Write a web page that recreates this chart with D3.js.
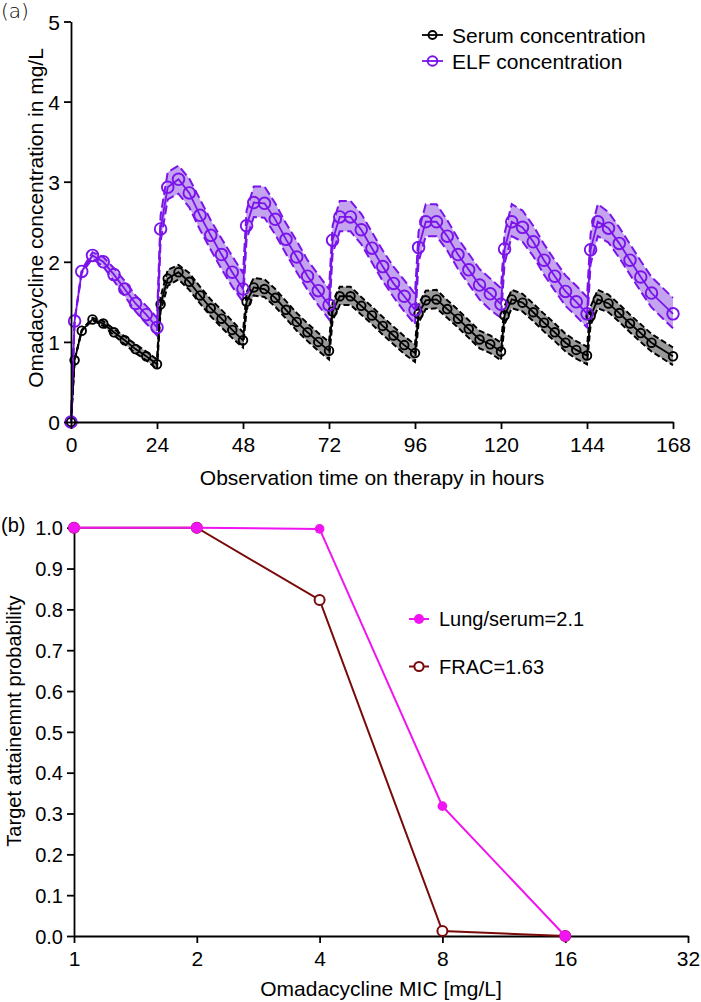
<!DOCTYPE html>
<html><head><meta charset="utf-8">
<script src="https://cdn.jsdelivr.net/npm/d3@7"></script>
<style>
body{margin:0;background:#fff;}
svg{display:block;font-family:"Liberation Sans",Arial,sans-serif;}
</style></head>
<body><svg id="c" width="701" height="1002"></svg>
<script>
// ---------- Panel (a) data ----------
const times = [0,1,3,6,9,12,15,18,21,
 24,25,27,30,33,36,39,42,45,
 48,49,51,54,57,60,63,66,69,
 72,73,75,78,81,84,87,90,93,
 96,97,99,102,105,108,111,114,117,
 120,121,123,126,129,132,135,138,141,
 144,145,147,150,153,156,159,162,168];
const serum = [0,0.77,1.14,1.28,1.23,1.12,1.02,0.91,0.82,
 0.72,1.47,1.79,1.87,1.75,1.58,1.42,1.29,1.15,
 1.02,1.50,1.68,1.66,1.55,1.40,1.25,1.12,1.00,
 0.89,1.38,1.57,1.57,1.45,1.33,1.20,1.08,0.96,
 0.86,1.35,1.52,1.53,1.41,1.29,1.16,1.03,0.97,
 0.88,1.33,1.53,1.49,1.37,1.24,1.12,0.99,0.90,
 0.83,1.32,1.53,1.48,1.36,1.23,1.11,0.99,0.82];
const serumLo = [0,0.77,1.14,1.27,1.20,1.08,0.97,0.86,0.77,
 0.66,1.38,1.70,1.78,1.65,1.48,1.32,1.18,1.05,
 0.93,1.40,1.58,1.56,1.44,1.29,1.14,1.01,0.89,
 0.78,1.27,1.46,1.46,1.34,1.22,1.09,0.97,0.85,
 0.75,1.24,1.41,1.42,1.30,1.18,1.05,0.92,0.86,
 0.77,1.22,1.42,1.38,1.26,1.13,1.01,0.88,0.79,
 0.72,1.21,1.42,1.37,1.25,1.12,1.00,0.88,0.71];
const serumHi = [0,0.77,1.15,1.30,1.26,1.16,1.07,0.97,0.88,
 0.78,1.56,1.90,1.96,1.86,1.69,1.53,1.40,1.26,
 1.12,1.62,1.80,1.78,1.66,1.51,1.36,1.23,1.11,
 1.00,1.49,1.69,1.69,1.56,1.44,1.31,1.19,1.07,
 0.97,1.47,1.64,1.65,1.52,1.40,1.27,1.14,1.08,
 0.99,1.45,1.65,1.60,1.48,1.35,1.23,1.10,1.01,
 0.94,1.44,1.65,1.59,1.47,1.34,1.22,1.10,0.93];
const elf = [0,1.26,1.88,2.08,2.00,1.84,1.66,1.48,1.34,
 1.18,2.41,2.93,3.03,2.86,2.58,2.33,2.09,1.87,
 1.66,2.45,2.74,2.73,2.53,2.28,2.06,1.82,1.64,
 1.46,2.27,2.56,2.56,2.40,2.17,1.94,1.73,1.57,
 1.40,2.18,2.50,2.50,2.32,2.09,1.90,1.71,1.60,
 1.47,2.16,2.50,2.43,2.25,2.02,1.82,1.63,1.50,
 1.35,2.15,2.50,2.42,2.23,2.02,1.81,1.61,1.35];
const elfLo = [0,1.26,1.86,2.04,1.94,1.76,1.57,1.38,1.23,
 1.08,2.25,2.78,2.85,2.68,2.40,2.15,1.91,1.69,
 1.50,2.28,2.56,2.55,2.34,2.10,1.87,1.65,1.46,
 1.28,2.10,2.38,2.38,2.22,1.99,1.76,1.56,1.38,
 1.22,2.00,2.32,2.32,2.14,1.91,1.72,1.53,1.40,
 1.30,1.98,2.32,2.25,2.07,1.84,1.64,1.45,1.32,
 1.18,1.97,2.32,2.24,2.05,1.84,1.63,1.43,1.17];
const elfHi = [0,1.27,1.90,2.12,2.06,1.92,1.76,1.58,1.45,
 1.30,2.58,3.12,3.20,3.04,2.78,2.52,2.29,2.07,
 1.86,2.64,2.94,2.94,2.73,2.48,2.26,2.02,1.84,
 1.66,2.45,2.76,2.76,2.60,2.37,2.14,1.94,1.77,
 1.60,2.38,2.72,2.72,2.52,2.29,2.10,1.91,1.79,
 1.67,2.36,2.72,2.64,2.45,2.22,2.02,1.83,1.70,
 1.56,2.35,2.72,2.62,2.43,2.22,2.01,1.81,1.55];
const xTicksA = [0,24,48,72,96,120,144,168];
const yTicksA = [0,1,2,3,4,5];

// ---------- Panel (b) data ----------
const mic = [1,2,4,8,16];
const lungSerum = [1.0,1.0,0.997,0.318,0.0];
const frac = [1.0,1.0,0.823,0.012,0.0];
const xTicksB = [1,2,4,8,16,32];
const yTicksB = [0,0.1,0.2,0.3,0.4,0.5,0.6,0.7,0.8,0.9,1.0];

const PURPLE = "#7a14ea", LAV = "#c4a4ee", GRAY = "#999999";
const PINK = "#f014f0", BROWN = "#7a0a0a";

const svg = d3.select("#c");

// ===== Panel (a) =====
const xA = d3.scaleLinear().domain([0,168]).range([71,673]);
const yA = d3.scaleLinear().domain([0,5]).range([422,21.5]);
const gA = svg.append("g");

function band(lo, hi, fill, stroke, dash){
  const area = d3.area().x((d,i)=>xA(times[i])).y0((d,i)=>yA(lo[i])).y1((d,i)=>yA(hi[i]));
  gA.append("path").datum(times).attr("d", area).attr("fill", fill).attr("stroke","none");
  [lo,hi].forEach(arr=>{
    const ln = d3.line().x((d,i)=>xA(times[i])).y((d,i)=>yA(arr[i]));
    gA.append("path").datum(times).attr("d", ln).attr("fill","none")
      .attr("stroke", stroke).attr("stroke-width",2).attr("stroke-dasharray",dash);
  });
}
band(serumLo, serumHi, GRAY, "#000", "6,3");
band(elfLo, elfHi, LAV, PURPLE, "9,4");

function series(vals, color, r){
  const ln = d3.line().x((d,i)=>xA(times[i])).y((d,i)=>yA(vals[i]));
  gA.append("path").datum(vals).attr("d", ln).attr("fill","none").attr("stroke",color).attr("stroke-width",1.8);
  gA.selectAll(null).data(vals).enter().append("circle")
    .attr("cx",(d,i)=>xA(times[i])).attr("cy",d=>yA(d)).attr("r",r)
    .attr("fill","none").attr("stroke",color).attr("stroke-width",1.9);
}
series(serum, "#000", 4.3);
series(elf, PURPLE, 5.8);

// axes (a)
const axA_y = gA.append("g").attr("transform","translate(71,0)")
  .call(d3.axisLeft(yA).tickValues(yTicksA).tickSize(7).tickSizeOuter(0).tickPadding(4).tickFormat(d3.format("d")));
const axA_x = gA.append("g").attr("transform","translate(0,422)")
  .call(d3.axisBottom(xA).tickValues(xTicksA).tickSize(7).tickSizeOuter(0).tickPadding(8).tickFormat(d3.format("d")));
[axA_y, axA_x].forEach(a=>{
  a.select(".domain").attr("stroke","#000").attr("stroke-width",1.8);
  a.selectAll(".tick line").attr("stroke","#000").attr("stroke-width",1.8);
  a.selectAll(".tick text").attr("fill","#000").style("font-size","21px").style("font-family","Liberation Sans, Arial, sans-serif");
});
axA_y.selectAll(".tick text").attr("dy","0.36em");

gA.append("text").attr("x",372).attr("y",485).attr("text-anchor","middle")
  .style("font-size","21px").text("Observation time on therapy in hours");
gA.append("text").attr("transform","translate(43,218) rotate(-90)").attr("text-anchor","middle")
  .style("font-size","21px").text("Omadacycline concentration in mg/L");
svg.append("text").attr("x",1).attr("y",18).style("font-size","20px").style("font-family","DejaVu Sans, sans-serif")
  .style("font-weight","300").text("(a)");

// legend (a)
const legA = [{label:"Serum concentration", color:"#000", r:4, y:35},
              {label:"ELF concentration", color:PURPLE, r:4.8, y:61}];
legA.forEach(l=>{
  gA.append("line").attr("x1",422).attr("x2",443).attr("y1",l.y).attr("y2",l.y).attr("stroke",l.color).attr("stroke-width",1.8);
  gA.append("circle").attr("cx",432.5).attr("cy",l.y).attr("r",l.r).attr("fill","none").attr("stroke",l.color).attr("stroke-width",1.9);
  gA.append("text").attr("x",452).attr("y",l.y+8).style("font-size","21px").text(l.label);
});

// ===== Panel (b) =====
const xB = d3.scaleLog().base(2).domain([1,32]).range([74,688]);
const yB = d3.scaleLinear().domain([0,1]).range([936,527.7]);
const gB = svg.append("g");

const axB_y = gB.append("g").attr("transform","translate(74,0)")
  .call(d3.axisLeft(yB).tickValues(yTicksB).tickSize(7).tickSizeOuter(0).tickPadding(4).tickFormat(d3.format(".1f")));
const axB_x = gB.append("g").attr("transform","translate(0,936)")
  .call(d3.axisBottom(xB).tickValues(xTicksB).tickSize(7).tickSizeOuter(0).tickPadding(8).tickFormat(d3.format("d")));
[axB_y, axB_x].forEach(a=>{
  a.select(".domain").attr("stroke","#000").attr("stroke-width",1.8);
  a.selectAll(".tick line").attr("stroke","#000").attr("stroke-width",1.8);
  a.selectAll(".tick text").attr("fill","#000").style("font-size","20px").style("font-family","Liberation Sans, Arial, sans-serif");
});
axB_x.selectAll(".tick text").style("font-size","21px");
axB_y.selectAll(".tick text").attr("dy","0.36em");

const lnB = (vals)=> d3.line().x((d,i)=>xB(mic[i])).y((d,i)=>yB(vals[i]));
gB.append("path").datum(frac).attr("d", lnB(frac)).attr("fill","none").attr("stroke",BROWN).attr("stroke-width",2);
gB.selectAll(null).data(frac).enter().append("circle")
  .attr("cx",(d,i)=>xB(mic[i])).attr("cy",d=>yB(d)).attr("r",5)
  .attr("fill","#fff").attr("stroke",BROWN).attr("stroke-width",2);
gB.append("path").datum(lungSerum).attr("d", lnB(lungSerum)).attr("fill","none").attr("stroke",PINK).attr("stroke-width",2);
gB.selectAll(null).data(lungSerum).enter().append("circle")
  .attr("cx",(d,i)=>xB(mic[i])).attr("cy",d=>yB(d)).attr("r",(d,i)=> (i===2||i===3)?4.8:5.8)
  .attr("fill",PINK).attr("stroke","none");

gB.append("text").attr("x",381).attr("y",996).attr("text-anchor","middle")
  .style("font-size","21px").text("Omadacycline MIC [mg/L]");
gB.append("text").attr("transform","translate(21,721) rotate(-90)").attr("text-anchor","middle")
  .style("font-size","20px").text("Target attainemnt probability");
svg.append("text").attr("x",1).attr("y",532).style("font-size","20px").text("(b)");

// legend (b)
const legB = [{label:"Lung/serum=2.1", color:PINK, filled:true, y:619},
              {label:"FRAC=1.63", color:BROWN, filled:false, y:666.5}];
legB.forEach(l=>{
  gB.append("line").attr("x1",409).attr("x2",429).attr("y1",l.y).attr("y2",l.y).attr("stroke",l.color).attr("stroke-width",2);
  gB.append("circle").attr("cx",419).attr("cy",l.y).attr("r",l.filled?5:4.6)
    .attr("fill",l.filled?l.color:"#fff").attr("stroke",l.filled?"none":l.color).attr("stroke-width",2);
  gB.append("text").attr("x",439).attr("y",l.y+7).style("font-size","20px").text(l.label);
});
</script></body></html>
